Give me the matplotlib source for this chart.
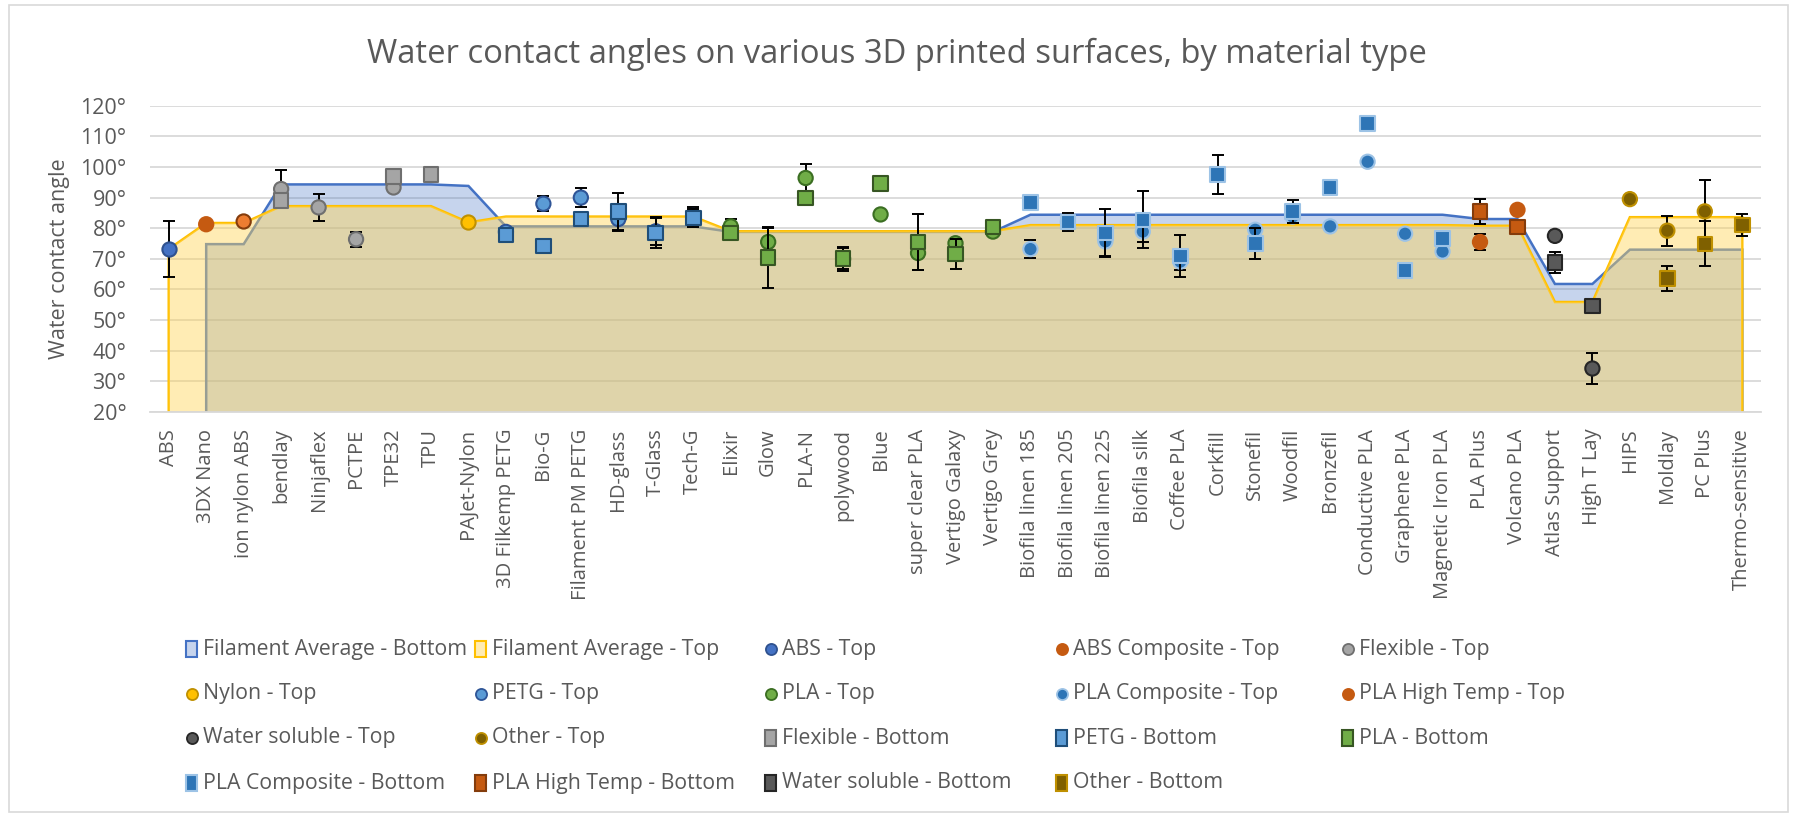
import numpy as np
import matplotlib
matplotlib.use("Agg")
import matplotlib.pyplot as plt
from matplotlib.lines import Line2D
from matplotlib.patches import Rectangle

plt.rcParams['font.family'] = ['Open Sans', 'DejaVu Sans']

# ---------------------------  DATA  -------------------------------------- #
categories = ["ABS", "3DX Nano", "ion nylon ABS", "bendlay", "Ninjaflex", "PCTPE", "TPE32", "TPU",
              "PAJet-Nylon", "3D Filkemp PETG", "Bio-G", "Filament PM PETG", "HD-glass", "T-Glass",
              "Tech-G", "Elixir", "Glow", "PLA-N", "polywood", "Blue", "super clear PLA",
              "Vertigo Galaxy", "Vertigo Grey", "Biofila linen 185", "Biofila linen 205",
              "Biofila linen 225", "Biofila silk", "Coffee PLA", "Corkfill", "Stonefil", "Woodfil",
              "Bronzefil", "Conductive PLA", "Graphene PLA", "Magnetic Iron PLA", "PLA Plus",
              "Volcano PLA", "Atlas Support", "High T Lay", "HIPS", "Moldlay", "PC Plus",
              "Thermo-sensitive"]

# material groups (in category order) and their average angles
group_names = ["ABS", "ABS Composite", "Flexible", "Nylon", "PETG", "PLA", "PLA Composite",
               "PLA High Temp", "Water soluble", "Other"]
group_sizes = [1, 2, 5, 1, 6, 8, 12, 2, 2, 4]
avg_top = [73.2, 81.7, 87.2, 81.9, 83.8, 79.0, 81.0, 80.8, 55.9, 83.6]
avg_bottom = [np.nan, 74.8, 94.3, 93.8, 80.6, 78.8, 84.4, 83.0, 61.8, 73.0]

# category -> (angle, error)  ; error 0 = no error bar
abs_top = {"ABS": (73.2, 9.0)}
abs_comp_top = {"3DX Nano": (81.3, 0), "ion nylon ABS": (82.2, 0)}
flex_top = {"bendlay": (92.8, 6.3), "Ninjaflex": (86.8, 4.4), "PCTPE": (76.4, 2.4), "TPE32": (93.3, 0)}
nylon_top = {"PAJet-Nylon": (81.9, 0)}
petg_top = {"3D Filkemp PETG": (78.8, 0), "Bio-G": (88.0, 2.5), "Filament PM PETG": (90.0, 3.0),
            "HD-glass": (83.0, 4.0), "T-Glass": (79.0, 4.5), "Tech-G": (84.0, 3.0)}
pla_top = {"Elixir": (80.6, 2.4), "Glow": (75.5, 4.6), "PLA-N": (96.4, 4.6), "polywood": (70.0, 4.0),
           "Blue": (84.5, 0), "super clear PLA": (71.9, 5.5), "Vertigo Galaxy": (75.1, 0),
           "Vertigo Grey": (78.9, 0)}
plac_top = {"Biofila linen 185": (73.2, 3.0), "Biofila linen 205": (82.0, 0), "Biofila linen 225": (75.7, 4.7),
            "Biofila silk": (78.9, 3.4), "Coffee PLA": (69.1, 2.7), "Corkfill": (97.5, 0),
            "Stonefil": (79.5, 1.6), "Woodfil": (83.8, 2.0), "Bronzefil": (80.6, 0),
            "Conductive PLA": (101.7, 0), "Graphene PLA": (78.2, 0), "Magnetic Iron PLA": (72.4, 0)}
plaht_top = {"PLA Plus": (75.5, 2.6), "Volcano PLA": (86.0, 0)}
ws_top = {"Atlas Support": (77.5, 0), "High T Lay": (34.2, 5.0)}
other_top = {"HIPS": (89.5, 0), "Moldlay": (79.2, 4.9), "PC Plus": (85.5, 10.3), "Thermo-sensitive": (81.0, 0)}

flex_bot = {"bendlay": (89.0, 2.3), "TPE32": (96.9, 0), "TPU": (97.5, 0)}
petg_bot = {"3D Filkemp PETG": (77.8, 0), "Bio-G": (74.2, 0), "Filament PM PETG": (83.0, 0),
            "HD-glass": (85.5, 6.0), "T-Glass": (78.4, 4.9), "Tech-G": (83.3, 2.9)}
pla_bot = {"Elixir": (78.4, 0), "Glow": (70.4, 10.0), "PLA-N": (89.8, 0), "polywood": (70.2, 3.5),
           "Blue": (94.6, 0), "super clear PLA": (75.5, 9.0), "Vertigo Galaxy": (71.6, 4.8),
           "Vertigo Grey": (80.4, 0)}
plac_bot = {"Biofila linen 185": (88.4, 2.5), "Biofila linen 205": (82.0, 3.0), "Biofila linen 225": (78.4, 7.8),
            "Biofila silk": (82.7, 9.3), "Coffee PLA": (71.0, 6.8), "Corkfill": (97.5, 6.4),
            "Stonefil": (75.1, 5.0), "Woodfil": (85.5, 3.8), "Bronzefil": (93.3, 0),
            "Conductive PLA": (114.1, 0), "Graphene PLA": (66.2, 0), "Magnetic Iron PLA": (76.7, 0)}
plaht_bot = {"PLA Plus": (85.5, 4.0), "Volcano PLA": (80.4, 0)}
ws_bot = {"Atlas Support": (68.9, 3.4), "High T Lay": (54.6, 0)}
other_bot = {"Moldlay": (63.5, 4.1), "PC Plus": (74.9, 7.3), "Thermo-sensitive": (81.0, 3.5)}

# label, data, marker, face, edge
series = [
    ("ABS - Top", abs_top, "o", "#4472C4", "#2F528F"),
    ("ABS Composite - Top", abs_comp_top, "o", "#C55A11", "#C55A11"),
    ("Flexible - Top", flex_top, "o", "#A5A5A5", "#6F6F6F"),
    ("Nylon - Top", nylon_top, "o", "#FFC000", "#BF9000"),
    ("PETG - Top", petg_top, "o", "#5B9BD5", "#2F5597"),
    ("PLA - Top", pla_top, "o", "#70AD47", "#3B6E22"),
    ("PLA Composite - Top", plac_top, "o", "#2E75B6", "#9DC3E6"),
    ("PLA High Temp - Top", plaht_top, "o", "#C55A11", "#C55A11"),
    ("Water soluble - Top", ws_top, "o", "#595959", "#262626"),
    ("Other - Top", other_top, "o", "#7F6000", "#BF9000"),
    ("Flexible - Bottom", flex_bot, "s", "#A5A5A5", "#6F6F6F"),
    ("PETG - Bottom", petg_bot, "s", "#5B9BD5", "#1F4E79"),
    ("PLA - Bottom", pla_bot, "s", "#70AD47", "#375623"),
    ("PLA Composite - Bottom", plac_bot, "s", "#2E75B6", "#9DC3E6"),
    ("PLA High Temp - Bottom", plaht_bot, "s", "#C55A11", "#843C0C"),
    ("Water soluble - Bottom", ws_bot, "s", "#595959", "#262626"),
    ("Other - Bottom", other_bot, "s", "#7F6000", "#BF9000"),
]
point_face = {("ABS Composite - Top", "ion nylon ABS"): ("#ED7D31", "#843C0C")}

# ---------------------------  FIGURE  -------------------------------------- #
W, H = 1793, 814
fig = plt.figure(figsize=(W / 100, H / 100), dpi=100)
ax = fig.add_axes([150 / W, 1 - 412 / H, (1761 - 150) / W, (412 - 105.7) / H])

x_all = np.arange(len(categories))
top_line = np.repeat(avg_top, group_sizes)
bot_line = np.repeat(avg_bottom, group_sizes)


def area(vals, line_color, fill_color, alpha, z):
    ok = ~np.isnan(vals)
    xs, ys = x_all[ok], vals[ok]
    px = np.concatenate([[xs[0]], xs, [xs[-1]]])
    py = np.concatenate([[0], ys, [0]])
    ax.fill(px, py, facecolor=fill_color, alpha=alpha, zorder=z)
    ax.plot(px, py, color=line_color, lw=1.8, zorder=z - 0.05, solid_joinstyle='miter')


area(bot_line, "#4472C4", "#4472C4", 0.3, 1)
area(top_line, "#FFC000", "#FFD55A", 0.45, 1.2)

z = 3
for label, data, mk, fc, ec in series:
    xs = [categories.index(c) for c in data]
    ys = [v for v, e in data.values()]
    es = [e for v, e in data.values()]
    xe = [x for x, e in zip(xs, es) if e > 0]
    ye = [y for y, e in zip(ys, es) if e > 0]
    ee = [e for e in es if e > 0]
    if ee:
        ax.errorbar(xe, ye, yerr=ee, fmt='none', ecolor='black', elinewidth=1.4,
                    capsize=4.5, capthick=1.4, zorder=z)
    faces = [point_face.get((label, c), (fc, ec))[0] for c in data]
    edges = [point_face.get((label, c), (fc, ec))[1] for c in data]
    ax.scatter(xs, ys, s=105 if mk == "o" else 110, marker=mk, c=faces, edgecolors=edges,
               linewidths=1.5, zorder=z + 0.5)
    z += 1

ax.set_xlim(-0.5, len(categories) - 0.5)
ax.set_ylim(20, 120)
ax.set_yticks(np.arange(20, 121, 10))
ax.set_yticklabels([f"{t}°" for t in range(20, 121, 10)])
ax.set_xticks(x_all)
ax.set_xticklabels(categories, rotation=90, va='top', ha='center')
ax.tick_params(axis='both', length=0, labelsize=14.5, labelcolor='#595959')
ax.tick_params(axis='y', labelsize=15.5)
ax.tick_params(axis='x', pad=12)
ax.tick_params(axis='y', pad=17)
ax.grid(axis='y', color='#D9D9D9', lw=1.3, zorder=0)
ax.set_axisbelow(True)
for s in ['top', 'right', 'left']:
    ax.spines[s].set_visible(False)
ax.spines['bottom'].set_color('#D9D9D9')
ax.spines['bottom'].set_linewidth(1.3)

fig.text(0.5, 1 - 54 / H, "Water contact angles on various 3D printed surfaces, by material type",
         ha='center', va='center', fontsize=23.6, color='#595959')
fig.text(60 / W, 1 - 259 / H, "Water contact angle", rotation=90, ha='center', va='center',
         fontsize=15.5, color='#595959')

# chart border
fig.add_artist(Rectangle((9 / W, 2 / H), (1788 - 9) / W, (809 - 2) / H, transform=fig.transFigure,
                         fill=False, edgecolor='#D9D9D9', lw=1.2))

# ---------------------------  LEGEND  -------------------------------------- #
legend_entries = [("Filament Average - Bottom", "area", "#4472C4", "#4472C4", 0.3),
                  ("Filament Average - Top", "area", "#FFD55A", "#FFC000", 0.45)]
legend_entries += [(lab, mk, fc, ec, 1) for lab, d, mk, fc, ec in series]
col_x = [186, 475, 765, 1056, 1342]
row_y = [649, 694, 738, 783]
for i, (lab, mk, fc, ec, a) in enumerate(legend_entries):
    x0, yc = col_x[i % 5], row_y[i // 5]
    if mk == "area":
        fig.add_artist(Rectangle((x0 / W, 1 - (yc + 8) / H), 11 / W, 16 / H, transform=fig.transFigure,
                                 facecolor=fc, alpha=a, edgecolor='none'))
        fig.add_artist(Rectangle((x0 / W, 1 - (yc + 8) / H), 11 / W, 16 / H, transform=fig.transFigure,
                                 fill=False, edgecolor=ec, lw=1.5))
    elif mk == "o":
        fig.add_artist(Line2D([(x0 + 6) / W], [1 - yc / H], marker='o', ms=8, mfc=fc, mec=ec,
                              mew=1.3, transform=fig.transFigure))
    else:
        fig.add_artist(Rectangle((x0 / W, 1 - (yc + 8) / H), 11 / W, 16 / H, transform=fig.transFigure,
                                 facecolor=fc, edgecolor=ec, lw=1.5))
    fig.text((x0 + 17) / W, 1 - yc / H, lab, ha='left', va='center', fontsize=15.3, color='#595959')

fig.savefig("out.png", dpi=100)
